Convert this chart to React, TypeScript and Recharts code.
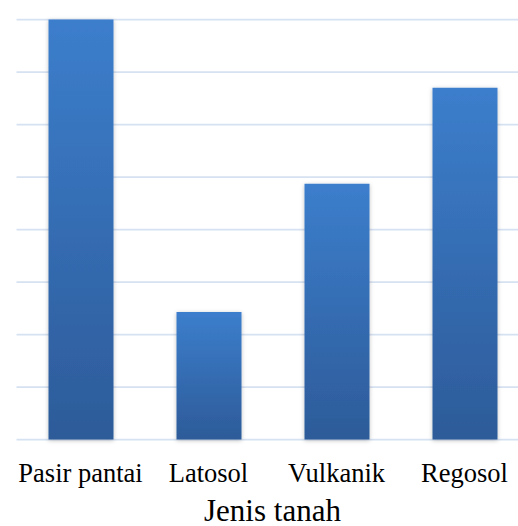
import React from 'react'
import {BarChart, Bar, CartesianGrid, XAxis, YAxis, Label} from 'recharts'

const soilTypes = ['Pasir pantai', 'Latosol', 'Vulkanik', 'Regosol']
const amounts = [8, 2.43, 4.87, 6.7]
const yTicks = [0, 1, 2, 3, 4, 5, 6, 7, 8]
const axisTitle = 'Jenis tanah'

const chartData = soilTypes.map((name, i) => ({name, value: amounts[i]}))

const fontCss = `
#root .soil-chart svg text,
#root .soil-chart svg text.serif-text {
  font-family: "Liberation Serif", "Times New Roman", serif !important;
}
`

const SoilTick = ({x, y, payload}: any) => (
  <text className="serif-text" x={x} y={y} dy="0.71em" textAnchor="middle" fontSize={26.5} fill="#000">
    {payload.value}
  </text>
)

const AxisTitle = ({viewBox}: any) => (
  <text
    className="serif-text"
    x={viewBox.x + viewBox.width / 2}
    y={viewBox.y + viewBox.height - 5}
    textAnchor="middle"
    fontSize={31}
    fill="#000"
  >
    {axisTitle}
  </text>
)

const App = () => {
  return (
    <div
      className="soil-chart"
      style={{position: 'absolute', left: 0, top: 0, width: 518, height: 526, overflow: 'hidden', background: '#fff'}}
    >
      <style>{fontCss}</style>
      <BarChart
        width={545}
        height={526}
        data={chartData}
        margin={{top: 19.5, right: 16.5, left: 16.5, bottom: 0}}
      >
        <defs>
          <linearGradient id="barGrad" x1="0" y1="0" x2="0" y2="1">
            <stop offset="0%" stopColor="#3C7ECC" />
            <stop offset="100%" stopColor="#2D5B99" />
          </linearGradient>
          <filter id="barShadow" x="-20%" y="-5%" width="140%" height="110%">
            <feDropShadow dx="0" dy="1" stdDeviation="2" floodColor="#000" floodOpacity="0.25" />
          </filter>
        </defs>
        <CartesianGrid vertical={false} stroke="#D6E1F1" strokeWidth={1.75} />
        <YAxis hide domain={[0, 8]} ticks={yTicks} />
        <XAxis
          dataKey="name"
          height={86.5}
          axisLine={false}
          tickLine={false}
          tickSize={0}
          tickMargin={24}
          tick={<SoilTick />}
        >
          <Label content={<AxisTitle />} />
        </XAxis>
        <Bar
          dataKey="value"
          barSize={65}
          fill="url(#barGrad)"
          filter="url(#barShadow)"
          isAnimationActive={false}
        />
      </BarChart>
    </div>
  )
}

export default App
